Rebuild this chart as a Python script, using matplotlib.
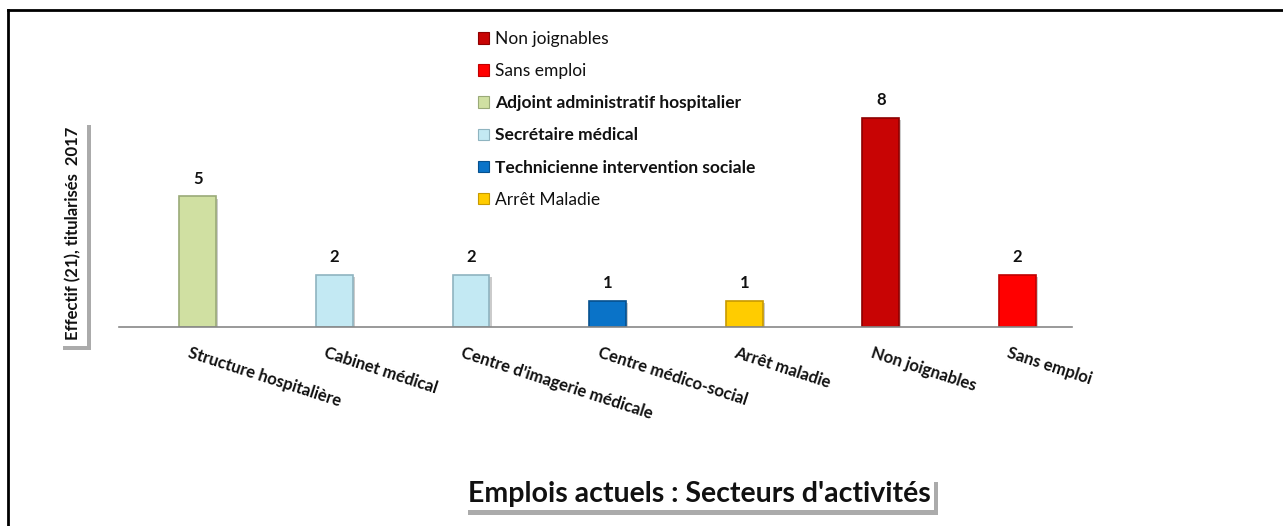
import matplotlib
matplotlib.use("Agg")
import matplotlib.pyplot as plt
import matplotlib.patheffects as pe
from matplotlib.patches import Patch
from matplotlib.lines import Line2D

plt.rcParams['font.family'] = ['Lato', 'DejaVu Sans']

categories = ["Structure hospitalière", "Cabinet médical", "Centre d'imagerie médicale",
              "Centre médico-social", "Arrêt maladie", "Non joignables", "Sans emploi"]
values = [5, 2, 2, 1, 1, 8, 2]
bar_series = ["Adjoint administratif hospitalier", "Secrétaire médical", "Secrétaire médical",
              "Technicienne intervention sociale", "Arrêt Maladie", "Non joignables", "Sans emploi"]

series_names = ["Non joignables", "Sans emploi", "Adjoint administratif hospitalier",
                "Secrétaire médical", "Technicienne intervention sociale", "Arrêt Maladie"]
series_colors = {"Non joignables": "#C80404", "Sans emploi": "#FF0000",
                 "Adjoint administratif hospitalier": "#D0E0A2",
                 "Secrétaire médical": "#C3E9F3",
                 "Technicienne intervention sociale": "#0A73C8",
                 "Arrêt Maladie": "#FFCC00"}
series_edges = {"Non joignables": "#8E0000", "Sans emploi": "#C00000",
                "Adjoint administratif hospitalier": "#9AAA78",
                "Secrétaire médical": "#8FB4C0",
                "Technicienne intervention sociale": "#06508E",
                "Arrêt Maladie": "#C89A00"}
series_bold = {"Non joignables": False, "Sans emploi": False,
               "Adjoint administratif hospitalier": True, "Secrétaire médical": True,
               "Technicienne intervention sociale": True, "Arrêt Maladie": False}

title = "Emplois actuels : Secteurs d'activités"
ylabel = "Effectif (21), titularisés  2017"

W, H = 1283, 526
fig = plt.figure(figsize=(W / 100, H / 100), dpi=100)
fig.patch.set_facecolor("white")

ax = fig.add_axes([119 / W, 1 - 327 / H, (1072 - 119) / W, (327 - 20) / H])
x = list(range(len(categories)))
colors = [series_colors[s] for s in bar_series]
edges = [series_edges[s] for s in bar_series]
bars = ax.bar(x, values, width=0.27, color=colors, edgecolor=edges, linewidth=1.2)
for b in bars:
    b.set_path_effects([pe.withSimplePatchShadow(offset=(1.5, -1.5), shadow_rgbFace="#999999", alpha=0.5)])
ax.set_xlim(-0.577, 6.40)
ax.set_ylim(0, 11.76)
for b, v in zip(bars, values):
    ax.annotate(str(v), (b.get_x() + b.get_width() / 2, v), xytext=(0, 7),
                textcoords="offset points", ha="center", va="bottom",
                fontsize=12, fontweight="bold", color="#111111")
for s in ["top", "right", "left"]:
    ax.spines[s].set_visible(False)
ax.spines["bottom"].set_color("#888888")
ax.spines["bottom"].set_linewidth(1.2)
ax.set_yticks([])
ax.set_xticks(x)
ax.set_xticklabels(categories, rotation=-18, ha="left", va="top",
                   rotation_mode="anchor", fontsize=12, fontweight="bold", color="#111111")
ax.tick_params(axis="x", length=0, pad=13)
for lbl in ax.get_xticklabels():
    lbl.set_transform(lbl.get_transform() + matplotlib.transforms.ScaledTranslation(-0.07, 0, fig.dpi_scale_trans))

# legend
handles = [Patch(facecolor=series_colors[s], edgecolor=series_edges[s], linewidth=0.8) for s in series_names]
leg = fig.legend(handles, series_names, loc="upper left", bbox_to_anchor=(478 / W, 1 - 31 / H),
                 frameon=False, fontsize=12.5, handlelength=0.65, handleheight=0.65,
                 handletextpad=0.35, labelspacing=0.93, borderaxespad=0, borderpad=0)
for t, s in zip(leg.get_texts(), series_names):
    t.set_fontweight("bold" if series_bold[s] else "normal")
    t.set_color("#111111")

shadow = [pe.withSimplePatchShadow(offset=(3, -3), shadow_rgbFace="#888888", alpha=0.7)]

# y label box with shadow
yl = fig.text(73 / W, 1 - 233 / H, ylabel, rotation=90, ha="center", va="center",
              fontsize=12, fontweight="bold", color="#111111",
              bbox=dict(boxstyle="square,pad=0.35", facecolor="white", edgecolor="none"))
yl.get_bbox_patch().set_path_effects(shadow)

# title box with shadow
tt = fig.text(699 / W, 1 - 494 / H, title, ha="center", va="center",
              fontsize=20.5, fontweight="bold", color="#111111",
              bbox=dict(boxstyle="square,pad=0.12", facecolor="white", edgecolor="none"))
tt.get_bbox_patch().set_path_effects(shadow)

# outer frame (top and left)
fig.add_artist(Line2D([8 / W, 1], [1 - 10 / H, 1 - 10 / H], transform=fig.transFigure, color="black", lw=2))
fig.add_artist(Line2D([8 / W, 8 / W], [1 - 10 / H, 0], transform=fig.transFigure, color="black", lw=2))

fig.savefig("out.png", dpi=100, facecolor="white")
